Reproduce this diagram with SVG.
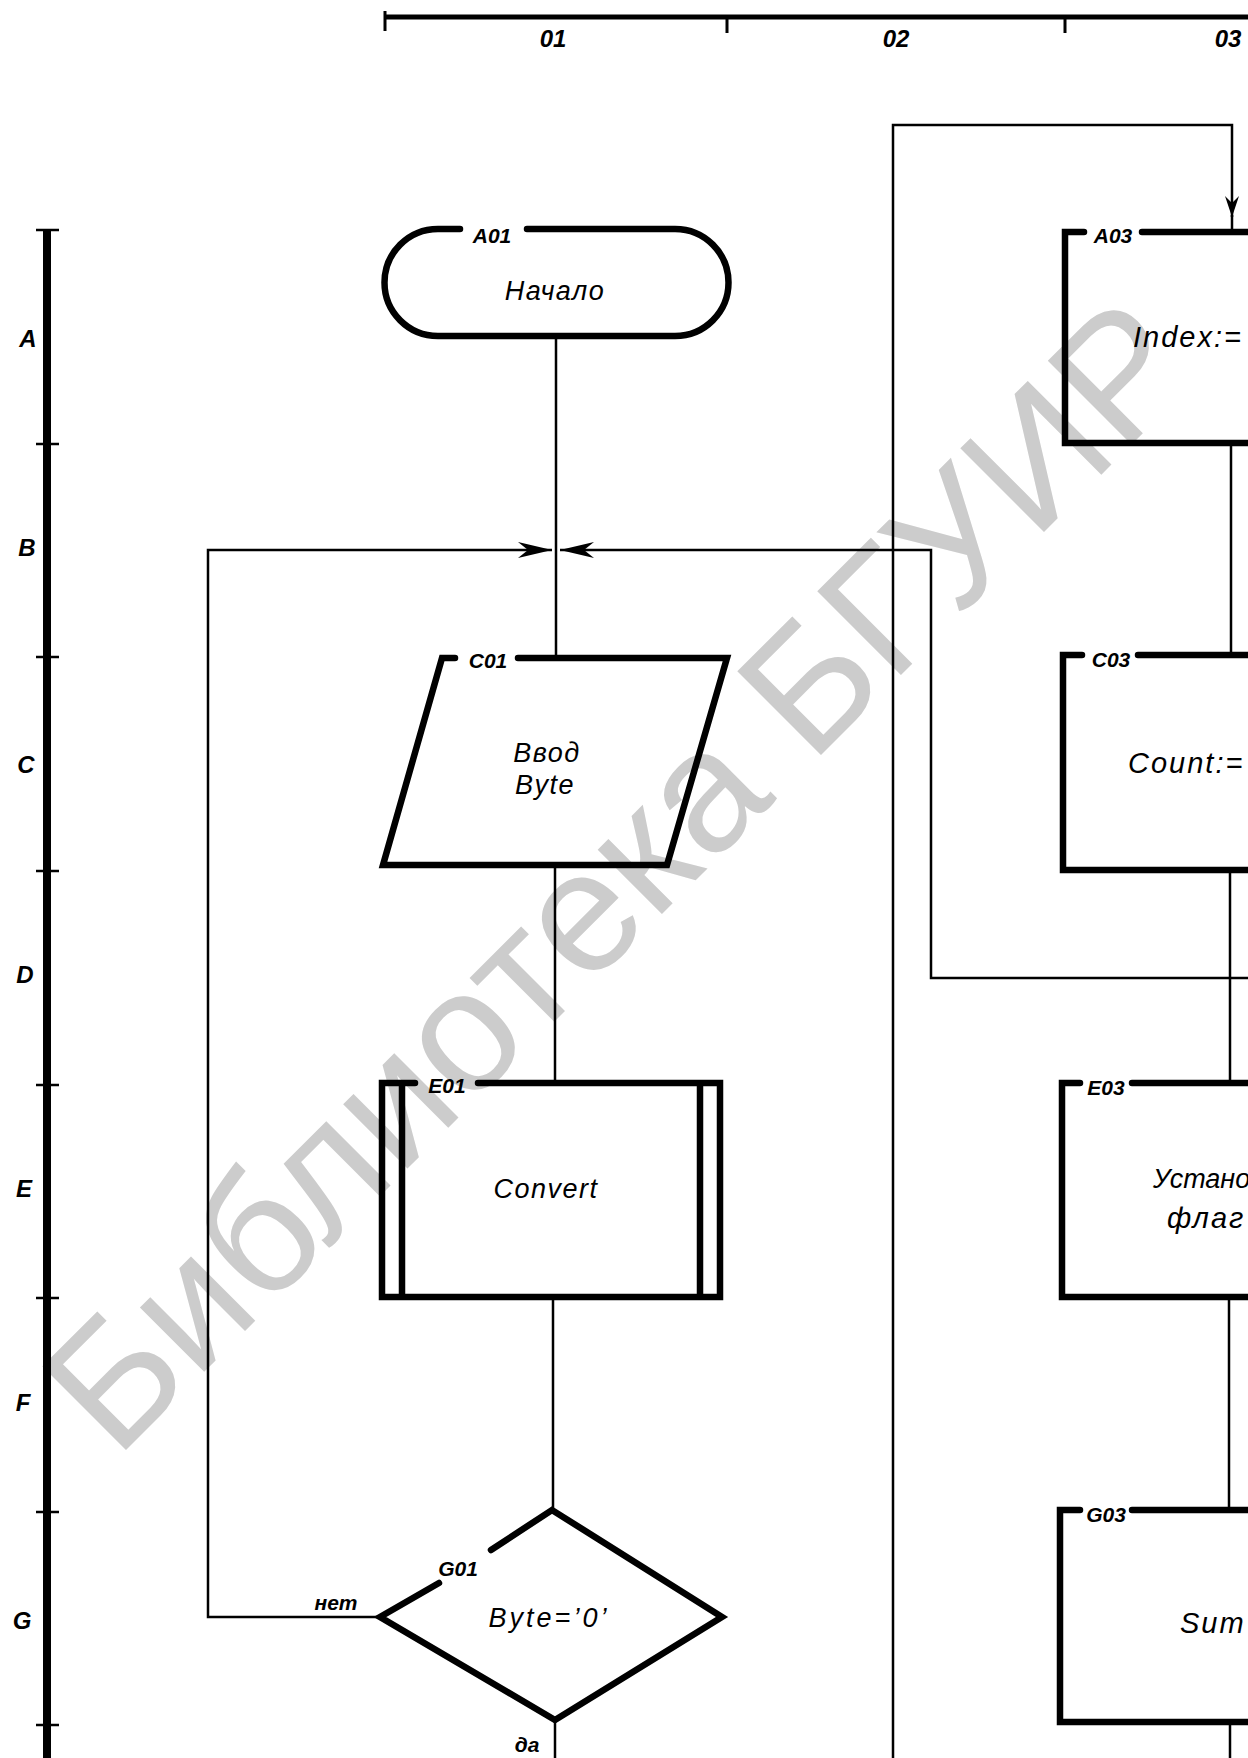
<svg xmlns="http://www.w3.org/2000/svg" width="1248" height="1758" viewBox="0 0 1248 1758">
<style>
.node{fill:none;stroke:#000;stroke-width:6.5;stroke-linejoin:miter;stroke-linecap:round}
.conn{fill:none;stroke:#000;stroke-width:2.5}
.ruler{fill:none;stroke:#000}
.lbl{font-family:"Liberation Sans",Arial,sans-serif;font-style:italic;font-weight:bold;font-size:21px;fill:#000}
.rl{font-family:"Liberation Sans",Arial,sans-serif;font-style:italic;font-weight:bold;font-size:24px;fill:#000;text-anchor:middle}
.txt{font-family:"Liberation Sans",Arial,sans-serif;font-style:italic;font-size:27px;fill:#000;text-anchor:middle;letter-spacing:1.5px}
.txl{font-family:"Liberation Sans",Arial,sans-serif;font-style:italic;font-size:29px;fill:#000;letter-spacing:2px}
.wm{font-family:"Liberation Sans",Arial,sans-serif;font-size:172px;fill:#cccccc}
</style>
<defs>
<marker id="barb" viewBox="-34 -10 36 20" refX="0" refY="0" markerWidth="36" markerHeight="20" markerUnits="userSpaceOnUse" orient="auto">
<path d="M0,0 L-34,-8 L-24,0 L-34,8 Z" fill="#000"/>
</marker>
<marker id="barbS" viewBox="-22 -9 24 18" refX="0" refY="0" markerWidth="24" markerHeight="18" markerUnits="userSpaceOnUse" orient="auto">
<path d="M0,0 L-21,-7 L-14,0 L-21,7 Z" fill="#000"/>
</marker>
</defs>
<rect x="0" y="0" width="1248" height="1758" fill="#fff"/>

<text class="wm" transform="translate(116,1460) rotate(-45)">Библиотека БГУИР</text>

<g id="rulers">
<path class="ruler" stroke-width="5" d="M385,17 H1248"/>
<path class="ruler" stroke-width="3" d="M385,11 V31 M727,17 V33 M1065,17 V33"/>
<text class="rl" x="553" y="47">01</text>
<text class="rl" x="896" y="47">02</text>
<text class="rl" x="1228" y="47">03</text>
<path class="ruler" stroke-width="8" d="M47,229 V1758"/>
<path class="ruler" stroke-width="2.5" d="M36,230 H59 M36,444 H59 M36,657 H59 M36,871 H59 M36,1085 H59 M36,1298 H59 M36,1512 H59 M36,1725 H59"/>
<text class="rl" x="28" y="347">A</text>
<text class="rl" x="27" y="556">B</text>
<text class="rl" x="26" y="773">C</text>
<text class="rl" x="25" y="983">D</text>
<text class="rl" x="24" y="1197">E</text>
<text class="rl" x="23" y="1411">F</text>
<text class="rl" x="22" y="1629">G</text>
</g>

<g id="connectors">
<path class="conn" d="M556,336 V658"/>
<path class="conn" d="M380,1617 H208 V550 H552" marker-end="url(#barb)"/>
<path class="conn" d="M1248,978 H931 V550 H560" marker-end="url(#barb)"/>
<path class="conn" d="M555,865 V1083"/>
<path class="conn" d="M553,1297 V1510"/>
<path class="conn" d="M555,1720 V1758"/>
<path class="conn" d="M893,1758 V125 H1232 V217" marker-end="url(#barbS)"/>
<path class="conn" d="M1232,215 V232"/>
<path class="conn" d="M1231,443 V655"/>
<path class="conn" d="M1230,870 V1083"/>
<path class="conn" d="M1229,1297 V1510"/>
<path class="conn" d="M1230,1722 V1758"/>
<text class="lbl" x="336" y="1610" text-anchor="middle">нет</text>
<text class="lbl" x="527" y="1752" text-anchor="middle">да</text>
</g>

<g id="A01">
<path class="node" d="M527,229 H675 A53.5,53.5 0 0 1 675,336 H438 A53.5,53.5 0 0 1 438,229 H460"/>
<text class="lbl" x="492" y="243" text-anchor="middle">A01</text>
<text class="txt" x="555" y="300">Начало</text>
</g>

<g id="C01">
<path class="node" d="M518,658 H727 L667,865 H383 L442,658 H455"/>
<text class="lbl" x="488" y="668" text-anchor="middle">C01</text>
<text class="txt" x="547" y="762">Ввод</text>
<text class="txt" x="545" y="794">Byte</text>
</g>

<g id="E01">
<path class="node" d="M478,1083 H720 V1297 H382 V1083 H415 M402,1083 V1297 M700,1083 V1297"/>
<text class="lbl" x="447" y="1093" text-anchor="middle">E01</text>
<text class="txt" x="546" y="1198">Convert</text>
</g>

<g id="G01">
<path class="node" d="M491,1550 L552,1510 L722,1617 L555,1720 L380,1617 L439,1583"/>
<text class="lbl" x="458" y="1576" text-anchor="middle">G01</text>
<text class="txt" x="549" y="1627" style="letter-spacing:3px">Byte=’0’</text>
</g>

<g id="A03">
<path class="node" d="M1142,232 H1410 V443 H1065 V232 H1084"/>
<text class="lbl" x="1113" y="243" text-anchor="middle">A03</text>
<text class="txl" x="1133" y="347">Index:=</text>
</g>

<g id="C03">
<path class="node" d="M1138,655 H1410 V870 H1063 V655 H1082"/>
<text class="lbl" x="1111" y="667" text-anchor="middle">C03</text>
<text class="txl" x="1128" y="773">Count:=</text>
</g>

<g id="E03">
<path class="node" d="M1132,1083 H1410 V1297 H1062 V1083 H1080"/>
<text class="lbl" x="1106" y="1095" text-anchor="middle">E03</text>
<text class="txl" x="1153" y="1188" style="letter-spacing:0;font-size:27px">Устано</text>
<text class="txl" x="1167" y="1228">флаг</text>
</g>

<g id="G03">
<path class="node" d="M1132,1510 H1410 V1722 H1060 V1510 H1080"/>
<text class="lbl" x="1106" y="1522" text-anchor="middle">G03</text>
<text class="txl" x="1180" y="1633">Sum</text>
</g>
</svg>
